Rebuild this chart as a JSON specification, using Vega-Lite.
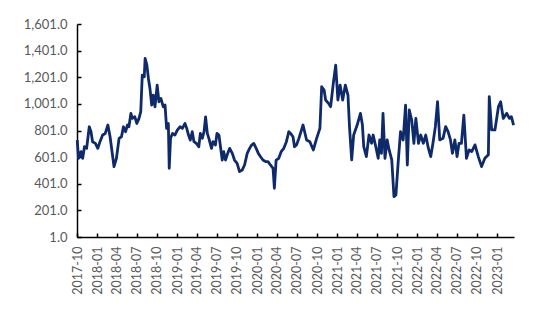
{
  "$schema": "https://vega.github.io/schema/vega-lite/v6.json",
  "width": 437,
  "height": 213,
  "autosize": "none",
  "padding": {"left": 77, "top": 24, "right": 36, "bottom": 76},
  "background": "white",
  "config": {
    "view": {"stroke": null},
    "axis": {"grid": false, "labelFont": "Lato", "labelColor": "#595959", "domainColor": "#000000", "tickColor": "#000000", "domainWidth": 1.5, "tickWidth": 1.5}
  },
  "data": {
    "values": [
      {"date": "2017-10-02", "value": 729},
      {"date": "2017-10-08", "value": 592},
      {"date": "2017-10-19", "value": 642},
      {"date": "2017-10-27", "value": 592},
      {"date": "2017-11-04", "value": 679},
      {"date": "2017-11-14", "value": 667},
      {"date": "2017-11-26", "value": 829},
      {"date": "2017-12-04", "value": 792},
      {"date": "2017-12-11", "value": 717},
      {"date": "2017-12-24", "value": 704},
      {"date": "2018-01-04", "value": 667},
      {"date": "2018-01-14", "value": 717},
      {"date": "2018-01-26", "value": 767},
      {"date": "2018-02-07", "value": 779},
      {"date": "2018-02-19", "value": 842},
      {"date": "2018-03-01", "value": 754},
      {"date": "2018-03-12", "value": 617},
      {"date": "2018-03-19", "value": 529},
      {"date": "2018-03-30", "value": 592},
      {"date": "2018-04-11", "value": 742},
      {"date": "2018-04-22", "value": 754},
      {"date": "2018-05-01", "value": 829},
      {"date": "2018-05-11", "value": 792},
      {"date": "2018-05-19", "value": 842},
      {"date": "2018-05-26", "value": 829},
      {"date": "2018-06-04", "value": 929},
      {"date": "2018-06-11", "value": 892},
      {"date": "2018-06-22", "value": 904},
      {"date": "2018-07-01", "value": 854},
      {"date": "2018-07-11", "value": 892},
      {"date": "2018-07-19", "value": 942},
      {"date": "2018-07-26", "value": 1217},
      {"date": "2018-08-04", "value": 1204},
      {"date": "2018-08-08", "value": 1342},
      {"date": "2018-08-16", "value": 1292},
      {"date": "2018-08-23", "value": 1192},
      {"date": "2018-08-30", "value": 1117},
      {"date": "2018-09-07", "value": 992},
      {"date": "2018-09-14", "value": 1067},
      {"date": "2018-09-22", "value": 979},
      {"date": "2018-10-02", "value": 1142},
      {"date": "2018-10-10", "value": 1017},
      {"date": "2018-10-19", "value": 1042},
      {"date": "2018-10-30", "value": 979},
      {"date": "2018-11-07", "value": 992},
      {"date": "2018-11-14", "value": 817},
      {"date": "2018-11-22", "value": 854},
      {"date": "2018-11-26", "value": 517},
      {"date": "2018-12-02", "value": 742},
      {"date": "2018-12-11", "value": 779},
      {"date": "2018-12-22", "value": 767},
      {"date": "2019-01-02", "value": 804},
      {"date": "2019-01-14", "value": 829},
      {"date": "2019-01-25", "value": 817},
      {"date": "2019-02-06", "value": 854},
      {"date": "2019-02-14", "value": 817},
      {"date": "2019-02-22", "value": 767},
      {"date": "2019-03-02", "value": 729},
      {"date": "2019-03-11", "value": 792},
      {"date": "2019-03-19", "value": 717},
      {"date": "2019-03-30", "value": 704},
      {"date": "2019-04-10", "value": 679},
      {"date": "2019-04-17", "value": 779},
      {"date": "2019-04-26", "value": 742},
      {"date": "2019-05-04", "value": 792},
      {"date": "2019-05-11", "value": 904},
      {"date": "2019-05-19", "value": 779},
      {"date": "2019-05-26", "value": 742},
      {"date": "2019-06-07", "value": 667},
      {"date": "2019-06-14", "value": 717},
      {"date": "2019-06-25", "value": 692},
      {"date": "2019-07-02", "value": 779},
      {"date": "2019-07-11", "value": 767},
      {"date": "2019-07-17", "value": 692},
      {"date": "2019-07-26", "value": 579},
      {"date": "2019-08-02", "value": 642},
      {"date": "2019-08-10", "value": 579},
      {"date": "2019-08-20", "value": 629},
      {"date": "2019-08-29", "value": 667},
      {"date": "2019-09-10", "value": 629},
      {"date": "2019-09-20", "value": 579},
      {"date": "2019-10-02", "value": 554},
      {"date": "2019-10-13", "value": 492},
      {"date": "2019-10-25", "value": 504},
      {"date": "2019-11-05", "value": 542},
      {"date": "2019-11-17", "value": 629},
      {"date": "2019-11-28", "value": 667},
      {"date": "2019-12-07", "value": 692},
      {"date": "2019-12-17", "value": 704},
      {"date": "2019-12-28", "value": 667},
      {"date": "2020-01-07", "value": 629},
      {"date": "2020-01-17", "value": 604},
      {"date": "2020-01-28", "value": 579},
      {"date": "2020-02-09", "value": 567},
      {"date": "2020-02-20", "value": 567},
      {"date": "2020-03-02", "value": 542},
      {"date": "2020-03-14", "value": 517},
      {"date": "2020-03-20", "value": 367},
      {"date": "2020-03-28", "value": 579},
      {"date": "2020-04-09", "value": 592},
      {"date": "2020-04-20", "value": 642},
      {"date": "2020-05-02", "value": 667},
      {"date": "2020-05-14", "value": 717},
      {"date": "2020-05-25", "value": 792},
      {"date": "2020-06-02", "value": 779},
      {"date": "2020-06-13", "value": 754},
      {"date": "2020-06-20", "value": 679},
      {"date": "2020-06-29", "value": 692},
      {"date": "2020-07-10", "value": 742},
      {"date": "2020-07-29", "value": 842},
      {"date": "2020-08-14", "value": 730},
      {"date": "2020-08-29", "value": 717},
      {"date": "2020-09-14", "value": 655},
      {"date": "2020-09-29", "value": 742},
      {"date": "2020-10-14", "value": 817},
      {"date": "2020-10-22", "value": 1130},
      {"date": "2020-11-02", "value": 1105},
      {"date": "2020-11-09", "value": 1030},
      {"date": "2020-11-22", "value": 1005},
      {"date": "2020-12-02", "value": 980},
      {"date": "2020-12-14", "value": 1155},
      {"date": "2020-12-25", "value": 1292},
      {"date": "2021-01-04", "value": 1030},
      {"date": "2021-01-14", "value": 1142},
      {"date": "2021-01-26", "value": 1030},
      {"date": "2021-02-07", "value": 1142},
      {"date": "2021-02-19", "value": 1067},
      {"date": "2021-02-26", "value": 830},
      {"date": "2021-03-08", "value": 580},
      {"date": "2021-03-17", "value": 767},
      {"date": "2021-04-02", "value": 842},
      {"date": "2021-04-17", "value": 930},
      {"date": "2021-04-26", "value": 842},
      {"date": "2021-05-02", "value": 680},
      {"date": "2021-05-14", "value": 605},
      {"date": "2021-05-26", "value": 767},
      {"date": "2021-06-07", "value": 705},
      {"date": "2021-06-14", "value": 767},
      {"date": "2021-06-26", "value": 680},
      {"date": "2021-07-07", "value": 592},
      {"date": "2021-07-14", "value": 730},
      {"date": "2021-07-22", "value": 630},
      {"date": "2021-07-29", "value": 930},
      {"date": "2021-08-07", "value": 592},
      {"date": "2021-08-17", "value": 730},
      {"date": "2021-08-26", "value": 655},
      {"date": "2021-09-07", "value": 580},
      {"date": "2021-09-17", "value": 304},
      {"date": "2021-09-26", "value": 317},
      {"date": "2021-10-07", "value": 580},
      {"date": "2021-10-17", "value": 792},
      {"date": "2021-10-29", "value": 730},
      {"date": "2021-11-09", "value": 992},
      {"date": "2021-11-17", "value": 542},
      {"date": "2021-11-26", "value": 955},
      {"date": "2021-12-07", "value": 880},
      {"date": "2021-12-17", "value": 705},
      {"date": "2021-12-26", "value": 892},
      {"date": "2022-01-07", "value": 705},
      {"date": "2022-01-17", "value": 767},
      {"date": "2022-01-29", "value": 705},
      {"date": "2022-02-09", "value": 767},
      {"date": "2022-02-21", "value": 668},
      {"date": "2022-03-04", "value": 605},
      {"date": "2022-03-14", "value": 705},
      {"date": "2022-03-25", "value": 830},
      {"date": "2022-04-04", "value": 1017},
      {"date": "2022-04-14", "value": 730},
      {"date": "2022-04-29", "value": 742},
      {"date": "2022-05-11", "value": 830},
      {"date": "2022-05-22", "value": 792},
      {"date": "2022-06-02", "value": 730},
      {"date": "2022-06-11", "value": 630},
      {"date": "2022-06-22", "value": 730},
      {"date": "2022-07-02", "value": 605},
      {"date": "2022-07-11", "value": 705},
      {"date": "2022-07-22", "value": 705},
      {"date": "2022-08-02", "value": 917},
      {"date": "2022-08-14", "value": 592},
      {"date": "2022-08-26", "value": 655},
      {"date": "2022-09-07", "value": 643},
      {"date": "2022-09-22", "value": 693},
      {"date": "2022-10-07", "value": 605},
      {"date": "2022-10-22", "value": 530},
      {"date": "2022-11-06", "value": 592},
      {"date": "2022-11-22", "value": 618},
      {"date": "2022-11-26", "value": 1055},
      {"date": "2022-12-07", "value": 805},
      {"date": "2022-12-22", "value": 805},
      {"date": "2023-01-07", "value": 980},
      {"date": "2023-01-17", "value": 1017},
      {"date": "2023-01-29", "value": 892},
      {"date": "2023-02-14", "value": 930},
      {"date": "2023-02-26", "value": 892},
      {"date": "2023-03-07", "value": 905},
      {"date": "2023-03-17", "value": 842}
    ]
  },
  "mark": {"type": "line", "color": "#0E2A6B", "strokeWidth": 2.8, "strokeJoin": "round"},
  "encoding": {
    "x": {
      "field": "date",
      "type": "temporal",
      "scale": {"domain": [{"year": 2017, "month": 10, "date": 1}, {"year": 2023, "month": 3, "date": 19}]},
      "axis": {
        "title": null,
        "format": "%Y-%m",
        "labelAngle": -90,
        "labelFontSize": 12.5,
        "tickSize": -4,
        "labelPadding": 13,
        "labelOverlap": false,
        "values": [
          {"year": 2017, "month": 10, "date": 1},
          {"year": 2018, "month": 1, "date": 1},
          {"year": 2018, "month": 4, "date": 1},
          {"year": 2018, "month": 7, "date": 1},
          {"year": 2018, "month": 10, "date": 1},
          {"year": 2019, "month": 1, "date": 1},
          {"year": 2019, "month": 4, "date": 1},
          {"year": 2019, "month": 7, "date": 1},
          {"year": 2019, "month": 10, "date": 1},
          {"year": 2020, "month": 1, "date": 1},
          {"year": 2020, "month": 4, "date": 1},
          {"year": 2020, "month": 7, "date": 1},
          {"year": 2020, "month": 10, "date": 1},
          {"year": 2021, "month": 1, "date": 1},
          {"year": 2021, "month": 4, "date": 1},
          {"year": 2021, "month": 7, "date": 1},
          {"year": 2021, "month": 10, "date": 1},
          {"year": 2022, "month": 1, "date": 1},
          {"year": 2022, "month": 4, "date": 1},
          {"year": 2022, "month": 7, "date": 1},
          {"year": 2022, "month": 10, "date": 1},
          {"year": 2023, "month": 1, "date": 1}
        ]
      }
    },
    "y": {
      "field": "value",
      "type": "quantitative",
      "scale": {"domain": [1, 1601], "nice": false, "zero": false},
      "axis": {
        "title": null,
        "format": ",.1f",
        "values": [1, 201, 401, 601, 801, 1001, 1201, 1401, 1601],
        "labelFontSize": 13,
        "tickSize": -4,
        "labelPadding": 14
      }
    }
  }
}
